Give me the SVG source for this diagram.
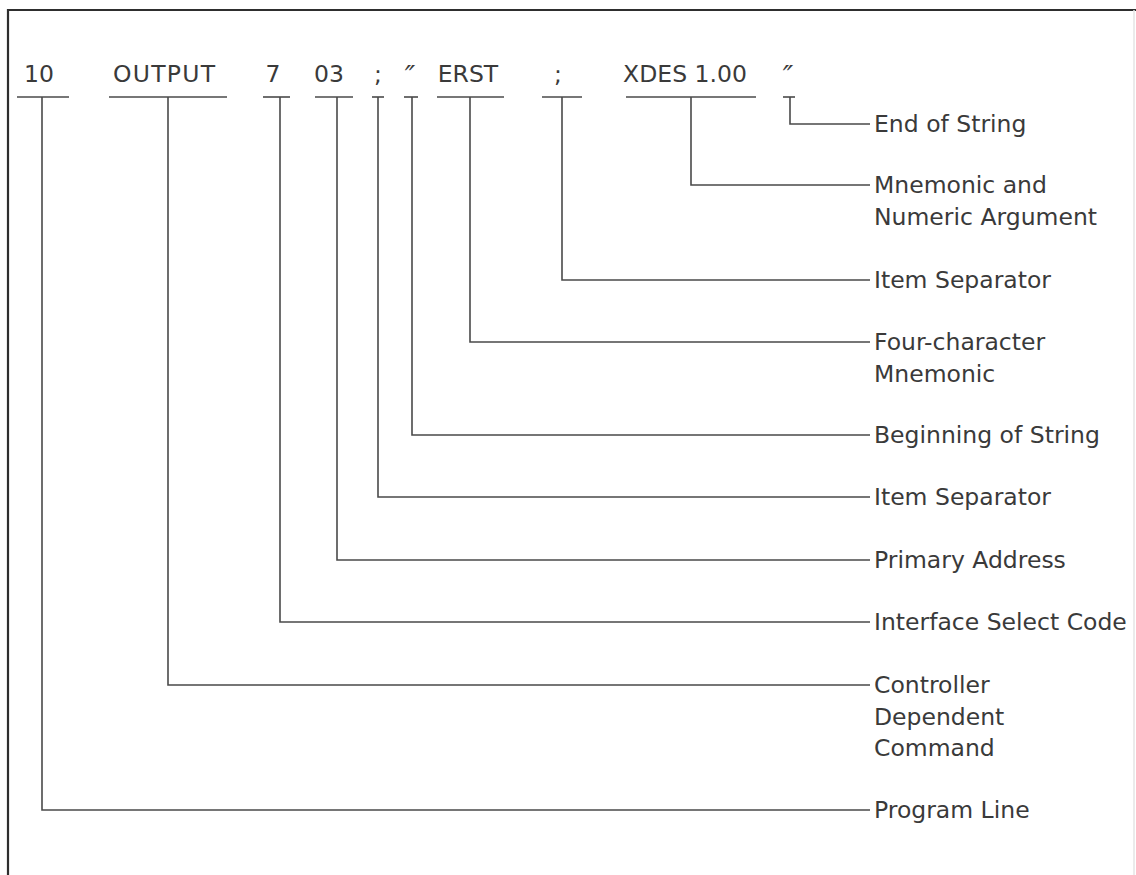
<svg xmlns="http://www.w3.org/2000/svg" width="1136" height="875" viewBox="0 0 1136 875">
<style>
text{font-family:"DejaVu Sans","Liberation Sans",sans-serif;font-size:23.5px;fill:#3a3a3a}
.tok{text-anchor:middle}
.q{font-size:28px;font-style:italic}
.ul,.cn{stroke:#4a4a4a;stroke-width:1.6;fill:none}
.frame{stroke:#2e2e2e;stroke-width:2.2;fill:none}
</style>
<rect width="1136" height="875" fill="#ffffff"/>
<g id="frame">
<path class="frame" d="M8,875 V10 H1136"/>
<line x1="1134" y1="10" x2="1134" y2="875" stroke="#e4e4e4" stroke-width="1.5"/>
</g>
<g id="tok-10"><text class="tok" x="39" y="82">10</text><line class="ul" x1="17" y1="97" x2="69" y2="97"/></g>
<g id="tok-output"><text class="tok" x="164" y="82" textLength="102">OUTPUT</text><line class="ul" x1="109" y1="97" x2="227" y2="97"/></g>
<g id="tok-7"><text class="tok" x="273" y="82">7</text><line class="ul" x1="263" y1="97" x2="290" y2="97"/></g>
<g id="tok-03"><text class="tok" x="329" y="82">03</text><line class="ul" x1="315" y1="97" x2="353" y2="97"/></g>
<g id="tok-semi1"><text class="tok" x="378" y="82">;</text><line class="ul" x1="372" y1="97" x2="384" y2="97"/></g>
<g id="tok-quote1"><text class="tok q" x="410" y="86">″</text><line class="ul" x1="404" y1="97" x2="418" y2="97"/></g>
<g id="tok-erst"><text class="tok" x="468" y="82">ERST</text><line class="ul" x1="437" y1="97" x2="504" y2="97"/></g>
<g id="tok-semi2"><text class="tok" x="558" y="82">;</text><line class="ul" x1="542" y1="97" x2="582" y2="97"/></g>
<g id="tok-xdes"><text class="tok" x="685" y="82">XDES 1.00</text><line class="ul" x1="626" y1="97" x2="756" y2="97"/></g>
<g id="tok-quote2"><text class="tok q" x="788" y="86">″</text><line class="ul" x1="783" y1="97" x2="795" y2="97"/></g>

<g id="connectors">
<path class="cn" d="M790,97 V124 H870"/>
<path class="cn" d="M691,97 V185 H870"/>
<path class="cn" d="M562,97 V280 H870"/>
<path class="cn" d="M470,97 V342 H870"/>
<path class="cn" d="M412,97 V435 H870"/>
<path class="cn" d="M378,97 V497 H870"/>
<path class="cn" d="M337,97 V560 H870"/>
<path class="cn" d="M280,97 V622 H870"/>
<path class="cn" d="M168,97 V685 H870"/>
<path class="cn" d="M42,97 V810 H870"/>
</g>

<g id="lbl-end-string"><text x="874" y="132">End of String</text></g>
<g id="lbl-mnemonic-arg"><text x="874" y="193">Mnemonic and</text><text x="874" y="224.5">Numeric Argument</text></g>
<g id="lbl-item-sep2"><text x="874" y="288">Item Separator</text></g>
<g id="lbl-four-char"><text x="874" y="350">Four-character</text><text x="874" y="381.5">Mnemonic</text></g>
<g id="lbl-begin-string"><text x="874" y="443">Beginning of String</text></g>
<g id="lbl-item-sep1"><text x="874" y="505">Item Separator</text></g>
<g id="lbl-primary"><text x="874" y="568">Primary Address</text></g>
<g id="lbl-isc"><text x="874" y="630">Interface Select Code</text></g>
<g id="lbl-controller"><text x="874" y="693">Controller</text><text x="874" y="724.5">Dependent</text><text x="874" y="756">Command</text></g>
<g id="lbl-program"><text x="874" y="818">Program Line</text></g>
</svg>
